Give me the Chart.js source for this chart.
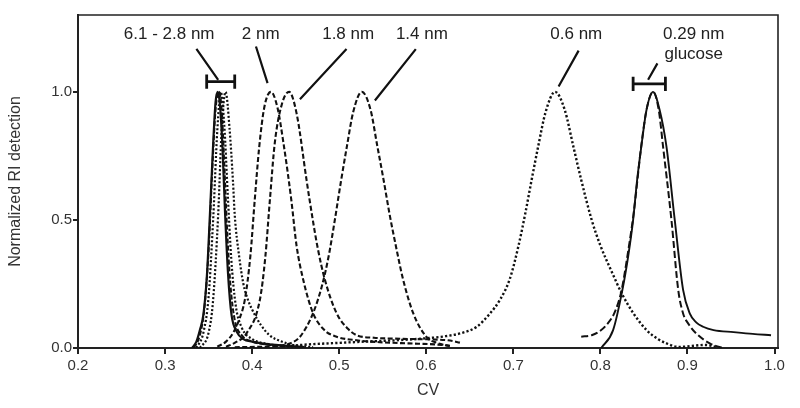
<!DOCTYPE html>
<html><head><meta charset="utf-8">
<script src="https://cdn.jsdelivr.net/npm/chart.js@4"></script>
<style>html,body{margin:0;padding:0;background:#fff}</style>
</head><body>
<canvas id="c" width="800" height="408"></canvas>
<script>
// ---- tick labels ----
const xTicks = [0.2, 0.3, 0.4, 0.5, 0.6, 0.7, 0.8, 0.9, 1.0];
const yTicks = [0.0, 0.5, 1.0];

// ---- 6.1 - 2.8 nm group ----
const cvA = [0.331,0.336,0.340,0.344,0.348,0.3515,0.355,0.358,0.3605,0.363,0.366,0.369,0.3725,0.3763,0.382,0.39,0.40,0.418,0.44,0.46];
const riA = [0,0.025,0.07,0.13,0.28,0.52,0.78,0.96,1.0,0.95,0.78,0.52,0.28,0.13,0.065,0.035,0.025,0.015,0.008,0.004];
const cvB = [0.333,0.34,0.345,0.35,0.354,0.358,0.362,0.365,0.368,0.371,0.375,0.38,0.388,0.40,0.42,0.44];
const riB = [0,0.05,0.15,0.38,0.68,0.93,1.0,0.93,0.72,0.48,0.25,0.11,0.05,0.025,0.012,0.005];
const cvC = [0.336,0.344,0.35,0.3555,0.36,0.364,0.368,0.372,0.376,0.381,0.388,0.40,0.42,0.45];
const riC = [0,0.06,0.2,0.52,0.85,1.0,0.87,0.6,0.35,0.17,0.08,0.035,0.015,0.005];
const cvD = [0.34,0.35,0.355,0.361,0.365,0.3695,0.374,0.378,0.380,0.385,0.39,0.395,0.40,0.41,0.42,0.434,0.45,0.47];
const riD = [0,0.06,0.18,0.52,0.85,1.0,0.86,0.65,0.52,0.36,0.25,0.19,0.15,0.09,0.05,0.025,0.01,0.003];

// ---- 2 nm ----
const cv2 = [0.36,0.37,0.378,0.385,0.3917,0.398,0.403,0.408,0.414,0.4216,0.429,0.436,0.445,0.451,0.4587,0.470,0.483,0.497,0.52,0.55,0.58,0.61,0.63];
const ri2 = [0.005,0.025,0.058,0.11,0.19,0.36,0.578,0.78,0.94,1.0,0.94,0.8,0.578,0.40,0.266,0.136,0.07,0.044,0.03,0.022,0.018,0.014,0.008];
// ---- 1.8 nm ----
const cv18 = [0.37,0.38,0.3937,0.409,0.415,0.4204,0.426,0.434,0.4425,0.451,0.4625,0.466,0.475,0.4836,0.497,0.51,0.52,0.54,0.57,0.60,0.625,0.64];
const ri18 = [0.005,0.02,0.058,0.19,0.35,0.578,0.8,0.95,1.0,0.917,0.656,0.578,0.396,0.266,0.136,0.075,0.05,0.04,0.036,0.034,0.03,0.02];
// ---- 1.4 nm ----
const cv14 = [0.38,0.41,0.43,0.445,0.455,0.470,0.480,0.488,0.495,0.502,0.509,0.516,0.526,0.536,0.5437,0.551,0.558,0.565,0.5735,0.585,0.600,0.612,0.627];
const ri14 = [0.003,0.005,0.008,0.02,0.044,0.136,0.24,0.36,0.5,0.65,0.79,0.92,1.0,0.93,0.79,0.656,0.52,0.40,0.266,0.136,0.044,0.02,0.008];
// ---- 0.6 nm ----
const cv06 = [0.44,0.47,0.5,0.53,0.57,0.6,0.62,0.64,0.658,0.672,0.685,0.696,0.706,0.714,0.721,0.7285,0.737,0.748,0.759,0.769,0.778,0.79,0.80,0.8127,0.825,0.838,0.853,0.866,0.876,0.89,0.905,0.92,0.935];
const ri06 = [0.008,0.015,0.02,0.025,0.031,0.038,0.045,0.058,0.083,0.13,0.19,0.27,0.40,0.53,0.656,0.786,0.92,1.0,0.93,0.786,0.656,0.5,0.40,0.30,0.21,0.135,0.07,0.035,0.018,0.004,0.008,0.012,0.003];
// ---- 0.29 nm glucose ----
const cvGs = [0.801,0.8146,0.8253,0.832,0.8376,0.842,0.847,0.853,0.8605,0.868,0.8759,0.8854,0.895,0.9026,0.91,0.918,0.93,0.953,0.975,0.996];
const riGs = [0,0.07,0.227,0.36,0.5,0.65,0.786,0.93,1.0,0.93,0.786,0.5,0.227,0.135,0.1,0.083,0.07,0.062,0.055,0.05];
const cvGd = [0.778,0.79,0.799,0.807,0.8165,0.824,0.832,0.838,0.847,0.853,0.8605,0.867,0.872,0.8816,0.8894,0.895,0.902,0.910,0.9256,0.9405];
const riGd = [0.044,0.05,0.065,0.09,0.14,0.22,0.38,0.52,0.79,0.93,1.0,0.93,0.786,0.5,0.227,0.135,0.09,0.057,0.018,0];

// ---- annotations (data coordinates) ----
const labelText = ['6.1 - 2.8 nm','2 nm','1.8 nm','1.4 nm','0.6 nm','0.29 nm','glucose'];
const labelCV   = [0.3047,0.4099,0.5103,0.595,0.7723,0.9072,0.9072];
const labelRI   = [1.223,1.223,1.223,1.223,1.223,1.223,1.145];
const leadCV = [0.336,0.361,null,0.4044,0.4177,null,0.5084,0.4549,null,0.588,0.541,null,0.775,0.752,null,0.8655,0.8548];
const leadRI = [1.168,1.047,null,1.177,1.034,null,1.167,0.971,null,1.167,0.966,null,1.161,1.021,null,1.111,1.047];
const barCV = [0.3478,0.380,null,0.3478,0.3478,null,0.380,0.380,null,0.8376,0.8747,null,0.8376,0.8376,null,0.8747,0.8747];
const barRI = [1.04,1.04,null,1.012,1.068,null,1.012,1.068,null,1.031,1.031,null,1.003,1.059,null,1.003,1.059];

const pts = (xs, ys) => xs.map((x, i) => ({x: x, y: ys[i]}));
const INK = '#111';
const curve = (xs, ys, dash, w) => ({
  data: pts(xs, ys), borderColor: INK, borderWidth: w || 2, borderDash: dash,
  pointRadius: 0, fill: false, cubicInterpolationMode: 'monotone'
});

const datasets = [
  curve(cvA, riA, [], 2.2),
  curve(cvB, riB, [5, 2], 2),
  curve(cvC, riC, [2, 2], 2.2),
  curve(cvD, riD, [2, 2], 2.2),
  curve(cv2, ri2, [5, 2.5], 2.1),
  curve(cv18, ri18, [5, 2.5], 2.1),
  curve(cv14, ri14, [5, 2.5], 2.1),
  curve(cv06, ri06, [2.2, 2.2], 2.4),
  curve(cvGs, riGs, [], 1.9),
  curve(cvGd, riGd, [7, 3], 2),
  {data: leadCV.map((x,i)=> x===null?{x:null,y:null}:{x:x,y:leadRI[i]}), borderColor: INK, borderWidth: 2.2, pointRadius: 0, spanGaps: false, tension: 0},
  {data: barCV.map((x,i)=> x===null?{x:null,y:null}:{x:x,y:barRI[i]}), borderColor: INK, borderWidth: 2.8, pointRadius: 0, spanGaps: false, tension: 0}
];

const framePlugin = {
  id: 'frame',
  afterDraw(chart) {
    const {ctx, chartArea: a, scales} = chart;
    ctx.save();
    ctx.strokeStyle = '#222'; ctx.lineWidth = 1.6;
    ctx.beginPath();
    ctx.moveTo(a.left, a.top); ctx.lineTo(a.right, a.top); ctx.lineTo(a.right, a.bottom);
    ctx.stroke();
    ctx.fillStyle = '#222';
    ctx.font = '17px "Liberation Sans", Arial, sans-serif';
    ctx.textAlign = 'center'; ctx.textBaseline = 'middle';
    labelText.forEach((t, i) => {
      ctx.fillText(t, scales.x.getPixelForValue(labelCV[i]), scales.y.getPixelForValue(labelRI[i]));
    });
    ctx.restore();
  }
};

const tickFont = {family: '"Liberation Sans", Arial, sans-serif', size: 15};
const titleFont = {family: '"Liberation Sans", Arial, sans-serif', size: 16};

new Chart(document.getElementById('c'), {
  type: 'line',
  data: {datasets},
  options: {
    responsive: false, animation: false, events: [],
    layout: {padding: {top: 15, right: 22, left: 0, bottom: 0}},
    plugins: {legend: {display: false}, tooltip: {enabled: false}},
    scales: {
      x: {
        type: 'linear', min: 0.2, max: 1.004,
        afterBuildTicks: s => { s.ticks = xTicks.map(v => ({value: v})); },
        afterFit: s => { s.height = 60; },
        ticks: {callback: v => v.toFixed(1), font: tickFont, color: '#333', padding: 3, autoSkip: false, maxRotation: 0},
        grid: {drawOnChartArea: false, drawTicks: true, tickLength: 6, color: '#222', lineWidth: 2},
        border: {display: true, color: '#222', width: 2},
        title: {display: true, text: 'CV', font: titleFont, color: '#333', padding: {top: 0, bottom: 8}}
      },
      y: {
        type: 'linear', min: 0, max: 1.3,
        afterBuildTicks: s => { s.ticks = yTicks.map(v => ({value: v})); },
        afterFit: s => { s.width = 78; },
        ticks: {callback: v => v.toFixed(1), font: tickFont, color: '#333', padding: 1},
        grid: {drawOnChartArea: false, drawTicks: true, tickLength: 5, color: '#222', lineWidth: 2},
        border: {display: true, color: '#222', width: 2},
        title: {display: true, text: 'Normalized RI detection', font: titleFont, color: '#333', padding: {top: 6, bottom: 0}}
      }
    }
  },
  plugins: [framePlugin]
});
</script>
</body></html>
